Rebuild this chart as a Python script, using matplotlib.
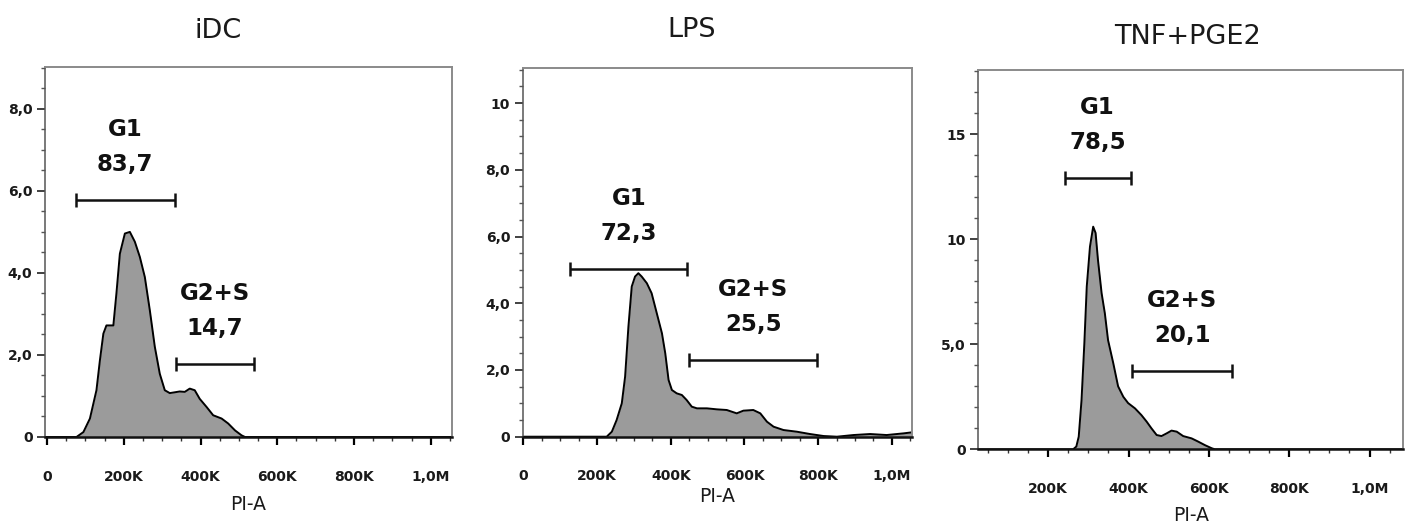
import matplotlib
matplotlib.use("Agg")
import matplotlib.pyplot as plt
from matplotlib.ticker import FixedLocator, MultipleLocator

# PI-A in thousands, counts per bin
idc_x = [-5, 77, 95, 112, 129, 138, 147, 155, 173, 181, 190, 203, 216, 229, 242,
         255, 268, 281, 294, 307, 320, 346, 359, 372, 385, 398, 416, 433, 455,
         472, 490, 507, 516, 1055]
idc_y = [0, 0, 0.12, 0.45, 1.14, 1.87, 2.52, 2.72, 2.72, 3.5, 4.47, 4.96, 5.0,
         4.76, 4.39, 3.9, 3.09, 2.2, 1.54, 1.14, 1.07, 1.11, 1.1, 1.18, 1.14,
         0.93, 0.73, 0.53, 0.45, 0.33, 0.16, 0.04, 0, 0]

lps_x = [0, 226, 240, 253, 267, 276, 285, 294, 303, 312, 321, 335, 348, 362, 376,
         385, 394, 403, 416, 430, 443, 457, 471, 498, 525, 552, 579, 597, 624,
         643, 661, 679, 706, 742, 778, 815, 851, 896, 941, 986, 1032, 1054]
lps_y = [0, 0, 0.15, 0.5, 1.0, 1.8, 3.3, 4.5, 4.8, 4.9, 4.8, 4.6, 4.3, 3.7, 3.1,
         2.5, 1.7, 1.4, 1.3, 1.25, 1.1, 0.9, 0.85, 0.85, 0.82, 0.8, 0.7, 0.78,
         0.8, 0.7, 0.45, 0.3, 0.2, 0.15, 0.08, 0.02, 0, 0.05, 0.08, 0.05, 0.1, 0.13]

tnf_x = [26, 262, 270, 276, 283, 290, 296, 304, 312, 318, 324, 333, 341, 349, 362,
         374, 387, 399, 416, 432, 445, 457, 470, 482, 495, 507, 520, 536, 557,
         573, 590, 607, 615, 1084]
tnf_y = [0, 0, 0.13, 0.6, 2.35, 5.05, 7.75, 9.65, 10.6, 10.3, 9.0, 7.43, 6.48,
         5.2, 4.1, 3.0, 2.5, 2.2, 1.95, 1.63, 1.32, 1.0, 0.68, 0.63, 0.76, 0.89,
         0.84, 0.63, 0.52, 0.37, 0.2, 0.05, 0, 0]

titles = ["iDC", "LPS", "TNF+PGE2"]
gate_names = ["G1", "G2+S"]
gate_pct = [["83,7", "14,7"], ["72,3", "25,5"], ["78,5", "20,1"]]
gate_lo = [[75, 336], [127, 450], [241, 409]]
gate_hi = [[333, 539], [445, 798], [405, 658]]
gate_y = [[5.78, 1.78], [5.03, 2.3], [12.9, 3.73]]

x_ticks = [0, 200, 400, 600, 800, 1000]
x_labels = ["0", "200K", "400K", "600K", "800K", "1,0M"]
y_ticks = [[0, 2, 4, 6, 8], [0, 2, 4, 6, 8, 10], [0, 5, 10, 15]]
y_labels = [["0", "2,0", "4,0", "6,0", "8,0"],
            ["0", "2,0", "4,0", "6,0", "8,0", "10"],
            ["0", "5,0", "10", "15"]]

xs = [idc_x, lps_x, tnf_x]
ys = [idc_y, lps_y, tnf_y]

# layout (pixels) and limits
W, H = 1413, 527
rects = [(45, 437, 452, 67), (522.7, 436.7, 911.7, 68), (978.3, 449.3, 1403.3, 70)]
xlims = [(-5, 1055), (-2, 1054), (26, 1084)]
ylims = [9.02, 11.05, 18.06]
y_minor = [0.5, 0.5, 1]
title_pos = [(218, 31), (692, 30), (1187, 37)]
xlabel_off = [68, 60, 66]

fig = plt.figure(figsize=(W / 100, H / 100), dpi=100)

for i in range(3):
    l, b, r, t = rects[i]
    ax = fig.add_axes([l / W, 1 - b / H, (r - l) / W, (b - t) / H])
    ax.fill_between(xs[i], ys[i], 0, color="#9b9b9b", lw=0)
    ax.plot(xs[i], ys[i], color="black", lw=1.4, solid_joinstyle="round")
    ax.set_xlim(*xlims[i])
    ax.set_ylim(0, ylims[i])

    for k in range(2):
        lo, hi, gy = gate_lo[i][k], gate_hi[i][k], gate_y[i][k]
        ax.plot([lo, hi], [gy, gy], color="#111111", lw=1.8, marker="|",
                markersize=10, mew=1.8, solid_capstyle="butt")
        cx = (lo + hi) / 2
        ax.annotate(gate_pct[i][k], (cx, gy), xytext=(0, 25.5),
                    textcoords="offset points", ha="center", va="center",
                    fontsize=16.5, fontweight="bold", color="#111111")
        ax.annotate(gate_names[k], (cx, gy), xytext=(0, 50.7),
                    textcoords="offset points", ha="center", va="center",
                    fontsize=16.5, fontweight="bold", color="#111111")

    ax.xaxis.set_major_locator(FixedLocator(x_ticks))
    ax.set_xticklabels(x_labels)
    ax.xaxis.set_minor_locator(MultipleLocator(50))
    ax.yaxis.set_major_locator(FixedLocator(y_ticks[i]))
    ax.set_yticklabels(y_labels[i])
    ax.yaxis.set_minor_locator(MultipleLocator(y_minor[i]))

    ax.tick_params(axis="x", which="major", length=6, width=1.6, pad=17.5,
                   labelsize=10, color="black")
    ax.tick_params(axis="x", which="minor", length=3, width=1, color="#333333")
    ax.tick_params(axis="y", which="major", length=6, width=1.3, pad=3,
                   labelsize=10, color="#333333")
    ax.tick_params(axis="y", which="minor", length=3, width=1, color="#555555")
    for lab in ax.get_xticklabels() + ax.get_yticklabels():
        lab.set_fontweight("bold")
        lab.set_color("#1a1a1a")

    ax.spines["bottom"].set_linewidth(1.8)
    ax.spines["bottom"].set_color("#111111")
    ax.spines["left"].set_color("#555555")
    ax.spines["left"].set_linewidth(1.1)
    for s in ["top", "right"]:
        ax.spines[s].set_color("#8a8a8a")
        ax.spines[s].set_linewidth(1.4)

    ax.set_xlabel("PI-A", fontsize=13.5, color="#1a1a1a")
    ax.xaxis.label.set_va("center")
    ax.xaxis.set_label_coords(0.5, -xlabel_off[i] / (b - t))

    tx, ty = title_pos[i]
    fig.text(tx / W, 1 - ty / H, titles[i], fontsize=19.5, ha="center",
             va="center", color="#1a1a1a")

fig.savefig("out.png", dpi=100)
